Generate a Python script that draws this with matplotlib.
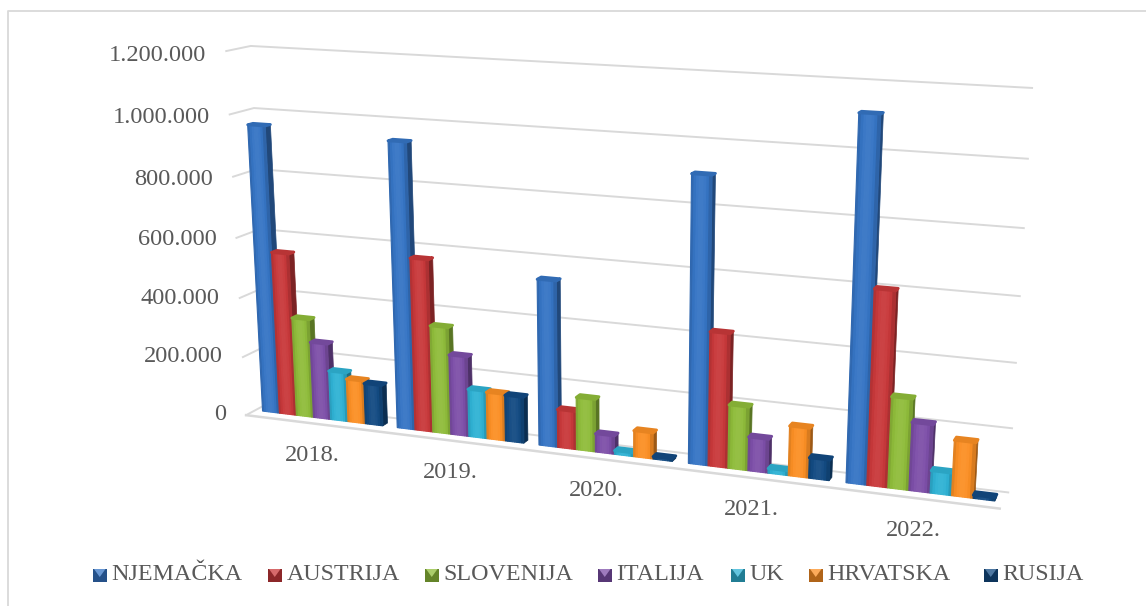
import numpy as np
import matplotlib
matplotlib.use('Agg')
import matplotlib.pyplot as plt
from matplotlib.patches import Polygon
from matplotlib.colors import to_rgb

years = ['2018.', '2019.', '2020.', '2021.', '2022.']
y_ticks = [0, 200000, 400000, 600000, 800000, 1000000, 1200000]
y_labels = ['0', '200.000', '400.000', '600.000', '800.000', '1.000.000', '1.200.000']

njemacka = [960000, 940000, 540000, 905000, 1115000]
austrija = [547000, 570000, 125000, 427000, 605000]
slovenija = [333000, 355000, 172000, 203000, 284000]
italija = [257000, 265000, 60000, 108000, 212000]
uk = [166000, 158000, 12000, 15000, 70000]
hrvatska = [145000, 155000, 85000, 158000, 172000]
rusija = [137000, 152000, 8000, 65000, 10000]

names = ['NJEMAČKA', 'AUSTRIJA', 'SLOVENIJA', 'ITALIJA', 'UK', 'HRVATSKA', 'RUSIJA']
series = [njemacka, austrija, slovenija, italija, uk, hrvatska, rusija]
colors = ['#3574c4', '#c8383a', '#8fbc3a', '#7d4fa8', '#2fb2d4', '#fb8f24', '#124a82']
legend_x = [93, 268, 425, 598, 731, 809, 984]

plt.rcParams['font.family'] = ['Liberation Serif', 'DejaVu Serif']
text_color = '#595959'
grid_color = '#d9d9d9'

fig = plt.figure(figsize=(11.46, 6.06), dpi=100)
ax = fig.add_axes([0, 0, 1, 1])
ax.set_xlim(0, 1146)
ax.set_ylim(606, 0)
ax.axis('off')


# perspective camera fitted to the corners of the chart box (category, value, depth) -> pixel
def fit_camera():
    n_cat = len(years)
    top = y_ticks[-1]
    world = [(0, 0, 0), (0, top, 0), (n_cat, 0, 0), (0, 0, 1), (0, top, 1), (n_cat, 0, 1), (n_cat, top, 1)]
    pix = [(247, 413), (225, 52), (1000, 510), (268, 405), (252, 45), (1008, 491), (1032, 88)]
    rows = []
    for (a, b, c), (px, py) in zip(world, pix):
        b = b / top
        rows.append([a, b, c, 1, 0, 0, 0, 0, -px * a, -px * b, -px * c, -px])
        rows.append([0, 0, 0, 0, a, b, c, 1, -py * a, -py * b, -py * c, -py])
    return np.linalg.svd(np.array(rows, dtype=float))[2][-1].reshape(3, 4)


camera = fit_camera()


def project(cat, value, depth):
    p = camera @ np.array([cat, value / y_ticks[-1], depth, 1.0])
    return p[0] / p[2], p[1] / p[2]


def shade(color, k):
    r = np.array(to_rgb(color))
    if k < 1:
        return tuple(r * k)
    return tuple(r + (1 - r) * (k - 1))


# grid on side wall and back wall
for v in y_ticks:
    pts = [project(0, v, 0), project(0, v, 1), project(len(years), v, 1)]
    ax.plot(*zip(*pts), color=grid_color, lw=1.4, zorder=1)
ax.plot(*zip(project(0, 0, 0), project(len(years), 0, 0)), color=grid_color, lw=1.8, zorder=1)

for v, lab in zip(y_ticks, y_labels):
    x, y = project(0, v, 0)
    ax.text(x - 20, y - 1 + 5 * v / y_ticks[-1], lab, ha='right', va='center', fontsize=17.6, color=text_color)

for i, year in enumerate(years):
    x, y = project(i + 0.5, 0, 0)
    ax.text(x - 1, y + 32, year, ha='center', va='center', fontsize=17.6, color=text_color)

# bars, overlapped inside each group and painted left to right
width = 0.128
step = 0.128
margin = 0.055
d0, d1 = 0.4, 0.62
z = 2
for i in range(len(years)):
    for s, vals in enumerate(series):
        v = vals[i]
        c = colors[s]
        left = i + margin + s * step
        right = left + width
        side = [project(right, 0, d0), project(right, v, d0), project(right, v, d1), project(right, 0, d1)]
        ax.add_patch(Polygon(side, closed=True, fc=shade(c, 0.62), ec=shade(c, 0.62), lw=0.5, zorder=z))
        # front face split in strips for the bevel
        edges = np.linspace(left, right, 9)
        tones = [0.9, 0.98, 1.03, 1.05, 1.05, 1.03, 0.98, 0.86]
        for e0, e1, k in zip(edges[:-1], edges[1:], tones):
            f = [project(e0, 0, d0), project(e0, v, d0), project(e1, v, d0), project(e1, 0, d0)]
            ax.add_patch(Polygon(f, closed=True, fc=shade(c, k), ec=shade(c, k), lw=0.8, zorder=z))
        t = [project(left, v, d0), project(right, v, d0), project(right, v, d1), project(left, v, d1)]
        ax.add_patch(Polygon(t, closed=True, fc=shade(c, 0.92), ec=shade(c, 0.92), lw=2,
                             joinstyle='round', zorder=z))
        z += 1

# legend keys with the same bevel
for name, c, lx in zip(names, colors, legend_x):
    x0, x1, y0, y1 = lx, lx + 13.5, 569, 582
    mx, my = (x0 + x1) / 2, y0 + 8
    ax.add_patch(Polygon([(x0, y0), (x1, y0), (x1, y1), (x0, y1)], closed=True, fc=shade(c, 0.7), ec='none'))
    ax.add_patch(Polygon([(x0 + 1, y0), (x1 - 1, y0), (mx, my)], closed=True, fc=shade(c, 1.25), ec='none'))
    ax.text(lx + 18.5, 575, name, ha='left', va='center', fontsize=17.3, color=text_color)

# chart frame
ax.plot([8, 8, 1146], [606, 11, 11], color='#d9d9d9', lw=1.3, zorder=0)

fig.savefig('out.png', dpi=100)
